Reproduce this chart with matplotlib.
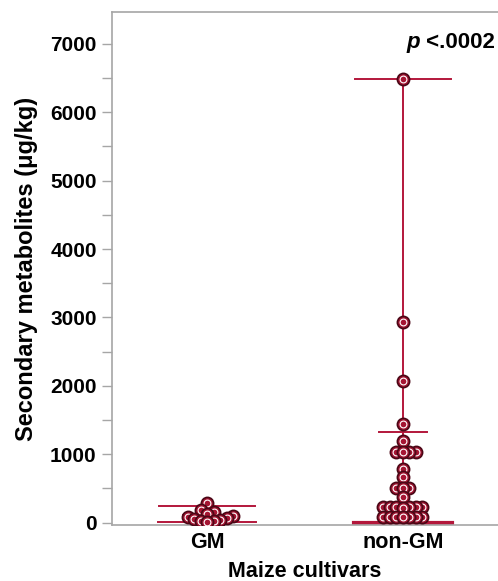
import matplotlib
matplotlib.use('Agg')
from matplotlib import pyplot as plt
import numpy as np

plt.rcParams['font.family'] = ['Liberation Sans', 'DejaVu Sans']

groups = ['GM', 'non-GM']
gm_values = [288, 186, 150, 120, 100, 80, 65, 50, 40, 30, 20, 10]
nongm_values = [6490, 2930, 2076, 1443, 1199, 1040, 1038, 1036, 1034, 781, 664,
                514, 512, 510, 371, 227, 226, 225, 224, 223, 222, 221,
                90, 89, 88, 87, 86, 85, 84]
# summary lines: wide top, narrow middle, wide bottom
top_line = [249, 6490]
mid_line = [113, 1330]
bottom_line = [8, 0]
yticks = [0, 1000, 2000, 3000, 4000, 5000, 6000, 7000]

line_col = '#b3173b'
face_col = '#a51533'
edge_col = '#4a0716'
axis_col = '#a6a6a6'

fig = plt.figure(figsize=(4.98, 5.81), dpi=100)
ax = fig.add_axes([0.2249, 0.0964, 0.7751, 0.8829])
ax.set_xlim(-0.485, 1.485)
ax.set_ylim(-34, 7466)

def swarm(values, xc, d=6.5):
    # greedy beeswarm in pixel space
    placed = []
    order = np.argsort(values)
    out = [None] * len(values)
    for i in order:
        px0, py = ax.transData.transform((xc, values[i]))
        k = 0
        while True:
            offs = [0] if k == 0 else [k * d, -k * d]
            ok = None
            for o in offs:
                if all((px0 + o - qx) ** 2 + (py - qy) ** 2 >= d * d * 0.98 for qx, qy in placed):
                    ok = o
                    break
            if ok is not None:
                placed.append((px0 + ok, py))
                out[i] = ax.transData.inverted().transform((px0 + ok, py))[0]
                break
            k += 1
    return out

for xc, vals in enumerate([gm_values, nongm_values]):
    ax.plot([xc, xc], [bottom_line[xc], top_line[xc]], color=line_col, lw=1.4, zorder=1)
    ax.plot([xc - 0.245, xc + 0.245], [top_line[xc]] * 2, color=line_col, lw=1.4, zorder=1)
    ax.plot([xc - 0.122, xc + 0.122], [mid_line[xc]] * 2, color=line_col, lw=1.4, zorder=1)
    ax.plot([xc - 0.25, xc + 0.25], [bottom_line[xc]] * 2, color=line_col,
            lw=1.4 if xc == 0 else 3, zorder=1)
    xs = swarm(vals, xc)
    for x, v in zip(xs, vals):
        ax.plot(x, v, 'o', ms=8.8, mfc=face_col, mec=edge_col, mew=1.2, zorder=3)
        ax.plot(x, v, 'o', ms=4.9, mfc='none', mec='white', mew=0.8, zorder=3)

ax.set_yticks(yticks)
ax.set_yticks(np.arange(500, 7500, 1000), minor=True)
ax.set_xticks([0, 1])
ax.set_xticklabels(groups, fontsize=15.5, fontweight='bold')
for t in ax.get_yticklabels():
    t.set_fontweight('bold')
    t.set_fontsize(15)
ax.tick_params(axis='y', which='both', direction='out', length=7, width=1, color=axis_col, pad=4)
ax.tick_params(axis='x', length=0, pad=5)

for s in ['left', 'bottom', 'top']:
    ax.spines[s].set_color(axis_col)
    ax.spines[s].set_linewidth(1.2)
ax.spines['right'].set_visible(False)

ax.set_ylabel('Secondary metabolites (μg/kg)', fontsize=17, fontweight='bold', labelpad=9)
ax.set_xlabel('Maize cultivars', fontsize=15.5, fontweight='bold', labelpad=6)

ptxt = ax.text(0.992, 0.93, ' <.0002', transform=ax.transAxes, fontsize=16,
               fontweight='bold', ha='right', va='baseline')
ax.annotate('p', xy=(0, 0), xycoords=ptxt, fontsize=16, fontweight='bold',
            style='italic', ha='right', va='bottom')

fig.savefig('out.png', dpi=100)
